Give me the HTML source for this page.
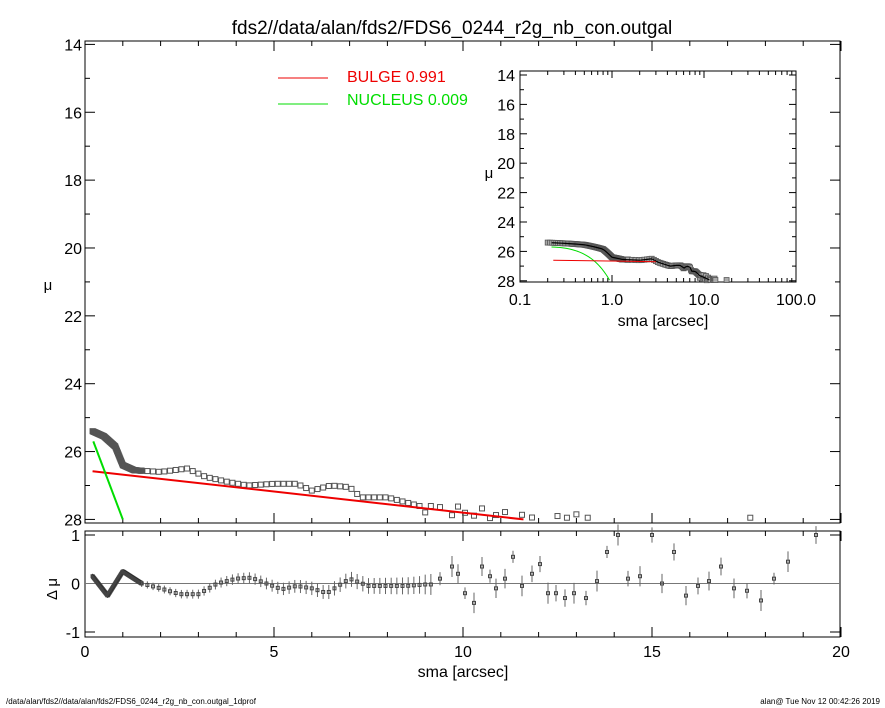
<!DOCTYPE html><html><head><meta charset="utf-8"><style>body{margin:0;background:#fff}svg{display:block}text{font-family:"Liberation Sans",sans-serif}</style></head><body>
<svg id="s" width="885" height="708" xmlns="http://www.w3.org/2000/svg">
<rect width="885" height="708" fill="#fff"/>
<text x="452" y="34" font-size="19" text-anchor="middle">fds2//data/alan/fds2/FDS6_0244_r2g_nb_con.outgal</text>
<g id="g"></g>
<text x="463" y="677" font-size="16" text-anchor="middle">sma [arcsec]</text>
<text x="48" y="290" font-size="15" text-anchor="middle">μ</text>
<text x="48" y="590" font-size="15" text-anchor="middle" transform="rotate(-90 52 585)">Δ μ</text>
<line x1="278" y1="78" x2="328" y2="78" stroke="#e00" stroke-width="1"/>
<text x="347" y="82" font-size="16" fill="#e00">BULGE  0.991</text>
<line x1="278" y1="104" x2="328" y2="104" stroke="#0d0" stroke-width="1"/>
<text x="347" y="105" font-size="16" fill="#0d0">NUCLEUS  0.009</text>
<text x="6" y="704" font-size="8">/data/alan/fds2//data/alan/fds2/FDS6_0244_r2g_nb_con.outgal_1dprof</text>
<text x="880" y="704" font-size="8" text-anchor="end">alan@  Tue Nov 12 00:42:26 2019</text>
<text x="663" y="326" font-size="16" text-anchor="middle">sma [arcsec]</text>
<text x="489" y="178" font-size="15" text-anchor="middle">μ</text>
</svg>
<script>
const g=document.getElementById('g');let h='';
const X=v=>85+v*37.8, Y=m=>44.4+(m-14)*33.93, R=d=>583.5-d*48.5;
const IX=v=>520+(Math.log10(v)+1)*92, IY=m=>75+(m-14)*14.7;
function L(a,b,c,d,col,w){h+=`<line x1="${a}" y1="${b}" x2="${c}" y2="${d}" stroke="${col||'#000'}" stroke-width="${w||1}"/>`}
function T(x,y,t,s,a){h+=`<text x="${x}" y="${y}" font-size="${s}" text-anchor="${a||'middle'}">${t}</text>`}
h+=`<rect x="85" y="41" width="755" height="482" fill="none" stroke="#000"/>`;
h+=`<rect x="85" y="531" width="755" height="106" fill="none" stroke="#000"/>`;
h+=`<rect x="520" y="71" width="276" height="211" fill="none" stroke="#000"/>`;
for(let m=14;m<=28;m+=2){T(82,Y(m)+6,m,16,'end');L(85,Y(m),95,Y(m));L(840,Y(m),830,Y(m));}
for(let m=15;m<=27;m+=2){L(85,Y(m),90,Y(m));L(840,Y(m),835,Y(m));}
for(let v=0;v<=20;v++){let k=v%5?5:10;L(X(v),523,X(v),523-k);L(X(v),41,X(v),41+k);L(X(v),637,X(v),637-k);L(X(v),531,X(v),531+k);}
for(let v=0;v<=20;v+=5)T(X(v),657,v,16);
[[1,'1'],[0,'0'],[-1,'-1']].forEach(([d,t])=>{T(80,R(d)+6,t,16,'end');L(85,R(d),95,R(d));L(840,R(d),830,R(d));});
L(85,R(0),840,R(0),'#777');
for(let m=14;m<=28;m+=2){T(515,IY(m)+6,m,16,'end');L(520,IY(m),527,IY(m));L(796,IY(m),789,IY(m));}
for(let m=15;m<=27;m+=2){L(520,IY(m),524,IY(m));L(796,IY(m),792,IY(m));}
[[0.1,'0.1'],[1,'1.0'],[10,'10.0'],[100,'100.0']].forEach(([v,t])=>{T(IX(v),305,t,16);L(IX(v),282,IX(v),275);L(IX(v),71,IX(v),78);});
for(let e=0.1;e<100;e*=10)for(let k=2;k<10;k++){L(IX(e*k),282,IX(e*k),278);L(IX(e*k),71,IX(e*k),75);}
const K=[[0.2,0.15],[0.6,-0.25],[1.0,0.25],[1.5,0.0],[2.0,-0.1],[2.5,-0.22],[3.0,-0.22],[3.5,0.0],[4.0,0.1],[4.4,0.12],[4.8,0.0],[5.2,-0.12],[5.6,-0.05],[6.0,-0.1],[6.4,-0.2],[6.8,0.0],[7.0,0.1],[7.5,-0.05],[8.0,-0.05],[8.5,-0.05],[9.0,-0.02]];
const M=[[0.2,25.4],[0.5,25.55],[0.8,25.85],[1.0,26.4],[1.3,26.55],[2,26.6],[2.7,26.5],[3.2,26.75],[3.8,26.9],[4.3,27.0],[5,26.95],[5.6,26.95],[6.0,27.15],[6.5,27.0],[7.0,27.05],[7.3,27.35],[8.0,27.35],[8.5,27.5],[9,27.65],[12,28.0],[20,28.6]];
function ip(A,r){for(let i=0;i<A.length-1;i++)if(r<=A[i+1][0]){let t=(r-A[i][0])/(A[i+1][0]-A[i][0]);return A[i][1]+t*(A[i+1][1]-A[i][1]);}return A[A.length-1][1];}
const far=[[440,0.1],[452,0.35],[458,0.2],[465,-0.2],[474,-0.4],[482,0.35],[490,0.15],[496,-0.1],[505,0.1],[513,0.55],[522,-0.05],[532,0.2],[540,0.4],[548,-0.2],[556,-0.2],[565,-0.3],[574,-0.2],[586,-0.3],[597,0.05],[607,0.65],[618,1],[628,0.1],[640,0.15],[652,1],[662,0.0],[674,0.65],[686,-0.25],[698,-0.05],[709,0.05],[721,0.35],[734,-0.1],[747,-0.15],[761,-0.35],[774,0.1],[788,0.45],[816,1]];
let P=[];for(let r=0.2;r<1.5;r+=0.012)P.push([r,ip(K,r)]);for(let r=1.5;r<9.2;r+=0.15)P.push([r,ip(K,r)]);
far.forEach(([x,d])=>P.push([(x-85)/37.8,d]));
P.forEach(([r,d],i)=>{
 let m=ip(M,r); if(r>9)m+=0.15*Math.sin(i*2.3);
 if(r<=12&&m<=28.05){h+=`<rect x="${X(r)-2.5}" y="${Y(m)-2.5}" width="5" height="5" fill="none" stroke="#555" stroke-width="1"/>`;
 if(r<14)h+=`<rect x="${IX(r)-2.5}" y="${IY(m)-2.5}" width="5" height="5" fill="#aaa" stroke="#555" stroke-width="0.8"/>`;}
 let e=r<1.5?0.05:Math.min(0.25,0.05+0.015*r);if(r>9)e=0.12+0.1*Math.abs(Math.sin(r*5));
 L(X(r),R(d)-e*48,X(r),R(d)+e*48,r<1.5?'#222':'#666');
 h+=`<rect x="${X(r)-1.5}" y="${R(d)-1.5}" width="3" height="3" fill="none" stroke="#444"/>`;
});
[[12.5,27.9],[12.75,27.95],[13,27.85],[13.3,27.95],[17.6,27.95]].forEach(([r,m])=>{h+=`<rect x="${X(r)-2.5}" y="${Y(m)-2.5}" width="5" height="5" fill="none" stroke="#555" stroke-width="1"/>`;h+=`<rect x="${IX(r)-2.5}" y="${IY(m)-2.5}" width="5" height="5" fill="#aaa" stroke="#555" stroke-width="0.8"/>`;});
let il='';for(let r=0.22;r<=12;r*=1.05){il+=`${IX(r)},${IY(ip(M,r))} `;}
h+=`<polyline points="${il}" fill="none" stroke="#000" stroke-width="1.2"/>`;
h+=`<line x1="${X(0.2)}" y1="${Y(26.58)}" x2="${X(11.6)}" y2="${Y(28)}" stroke="#e00" stroke-width="2"/>`;
h+=`<line x1="${X(0.22)}" y1="${Y(25.7)}" x2="${X(1.0)}" y2="${Y(28)}" stroke="#0d0" stroke-width="2"/>`;
let gp='';for(let r=0.22;r<=0.95;r+=0.02){gp+=`${IX(r)},${IY(25.7+2.3*Math.pow((r-0.22)/0.73,1.6))} `;}
h+=`<polyline points="${gp}" fill="none" stroke="#0d0"/>`;
L(IX(0.23),IY(26.6),IX(3),IY(26.7),'#e00');
g.innerHTML=h;
</script>
</body></html>
